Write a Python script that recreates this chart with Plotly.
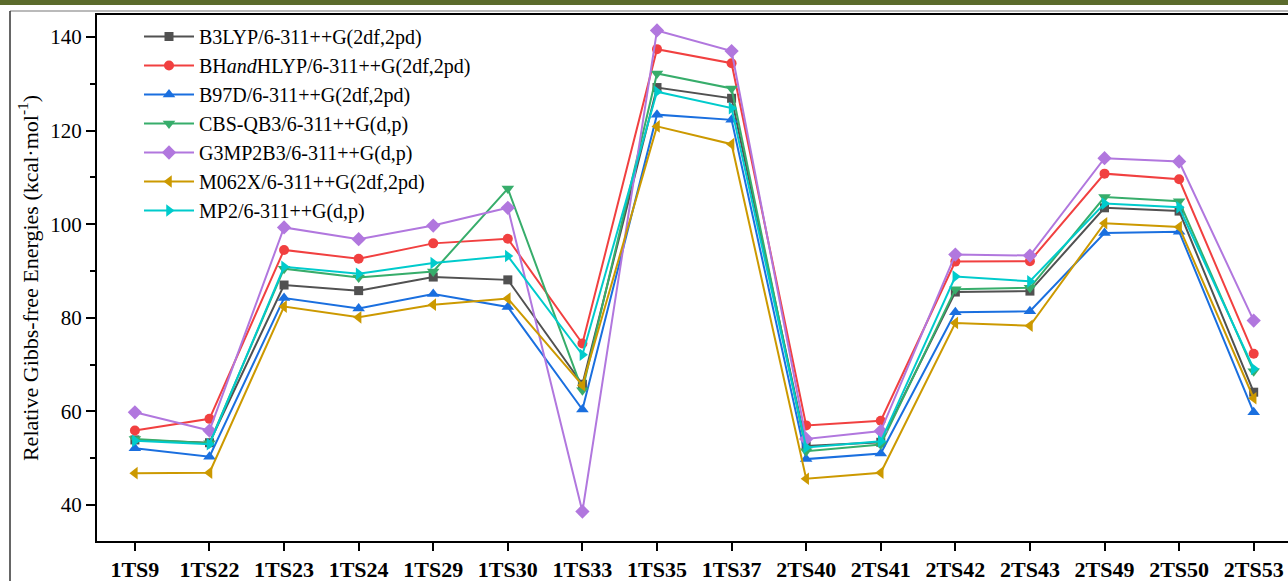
import plotly.graph_objects as go

categories = ["1TS9", "1TS22", "1TS23", "1TS24", "1TS29", "1TS30", "1TS33", "1TS35",
              "1TS37", "2TS40", "2TS41", "2TS42", "2TS43", "2TS49", "2TS50", "2TS53"]

b3lyp = [53.9, 53.3, 87.0, 85.8, 88.7, 88.1, 65.8, 129.2, 126.9, 52.6, 53.4, 85.5, 85.7, 103.5, 102.8, 64.1]
bhandhlyp = [55.9, 58.4, 94.5, 92.6, 95.9, 96.9, 74.5, 137.4, 134.4, 57.0, 58.0, 92.0, 92.1, 110.8, 109.6, 72.3]
b97d = [52.1, 50.3, 84.2, 82.0, 85.1, 82.3, 60.4, 123.4, 122.3, 49.8, 51.0, 81.2, 81.4, 98.1, 98.4, 59.8]
cbs_qb3 = [54.1, 53.2, 90.5, 88.6, 89.9, 107.6, 64.5, 132.2, 129.0, 51.5, 52.9, 86.1, 86.4, 105.8, 104.9, 68.6]
g3mp2b3 = [59.8, 55.9, 99.3, 96.8, 99.7, 103.5, 38.6, 141.4, 137.0, 54.1, 55.8, 93.5, 93.3, 114.1, 113.4, 79.4]
m062x = [46.8, 46.9, 82.4, 80.1, 82.8, 84.1, 65.6, 120.9, 117.1, 45.6, 46.9, 78.9, 78.3, 100.2, 99.4, 62.8]
mp2 = [53.7, 53.0, 90.9, 89.4, 91.7, 93.2, 72.1, 128.3, 124.8, 52.3, 53.6, 88.8, 87.8, 104.4, 103.6, 69.1]

series_names = ["B3LYP/6-311++G(2df,2pd)", "BH<i>and</i>HLYP/6-311++G(2df,2pd)",
                "B97D/6-311++G(2df,2pd)", "CBS-QB3/6-311++G(d,p)", "G3MP2B3/6-311++G(d,p)",
                "M062X/6-311++G(2df,2pd)", "MP2/6-311++G(d,p)"]
series_values = [b3lyp, bhandhlyp, b97d, cbs_qb3, g3mp2b3, m062x, mp2]
colors = ["#515151", "#F14040", "#1A6FDF", "#37AD6B", "#B177DE", "#CC9900", "#00CBCC"]
symbols = ["square", "circle", "triangle-up", "triangle-down", "diamond", "triangle-left", "triangle-right"]
sizes = [9, 10, 11, 11, 11, 11, 11]

FONT = "Liberation Serif"

fig = go.Figure()
for name, vals, c, s, sz in zip(series_names, series_values, colors, symbols, sizes):
    fig.add_trace(go.Scatter(
        x=categories, y=vals, name=name, mode="lines+markers",
        line=dict(color=c, width=2),
        marker=dict(symbol=s, size=sz, color=c, line=dict(width=0)),
    ))

W, H = 1288, 581
ml, mt, mb, mr = 97, 15, 40, 0
pw, ph = W - ml - mr, H - mt - mb

def px_x(x):
    return (x - ml) / pw

def px_y(y):
    return 1 - (y - mt) / ph

fig.update_layout(
    width=W, height=H,
    margin=dict(l=ml, r=mr, t=mt, b=mb, pad=0, autoexpand=False),
    paper_bgcolor="white", plot_bgcolor="white",
    font=dict(family=FONT, color="black", size=20),
    showlegend=True,
    legend=dict(x=px_x(139), y=px_y(17), xanchor="left", yanchor="top",
                bgcolor="rgba(0,0,0,0)", borderwidth=0,
                font=dict(family=FONT, size=20, color="black"),
                itemwidth=50, tracegroupgap=0),
    xaxis=dict(
        type="category", categoryorder="array", categoryarray=categories,
        range=[-0.508, 15.46],
        showline=True, linecolor="black", linewidth=2, mirror=True,
        ticks="outside", ticklen=8, tickwidth=1.5, tickcolor="black",
        showgrid=False, zeroline=False,
        tickfont=dict(family=FONT, size=22, color="black", weight="bold"),
    ),
    yaxis=dict(
        range=[32.3, 144.7], tick0=40, dtick=20,
        showline=True, linecolor="black", linewidth=2,
        ticks="outside", ticklen=9, tickwidth=1.5, tickcolor="black",
        minor=dict(dtick=10, tick0=40, ticks="outside", ticklen=5, tickwidth=1.5, tickcolor="black"),
        showgrid=False, zeroline=False,
        tickfont=dict(family=FONT, size=21, color="black"),
        title=dict(text="Relative Gibbs-free Energies (kcal·mol<sup>-1</sup>)",
                   font=dict(family=FONT, size=22, color="black"), standoff=6),
    ),
    shapes=[
        dict(type="rect", xref="paper", yref="paper",
             x0=px_x(0), x1=1.0, y0=px_y(5), y1=px_y(0),
             fillcolor="#5b6b2c", line=dict(width=0), layer="above"),
        dict(type="line", xref="paper", yref="paper",
             x0=px_x(10), x1=1.0, y0=px_y(11), y1=px_y(11),
             line=dict(color="#777777", width=1.2)),
        dict(type="line", xref="paper", yref="paper",
             x0=px_x(10), x1=px_x(10), y0=px_y(11), y1=px_y(581),
             line=dict(color="#333333", width=1.5)),
    ],
)

fig.write_html("out.html", config={"displayModeBar": False},
               post_script="document.body.style.margin='0px';document.body.style.overflow='hidden';")
